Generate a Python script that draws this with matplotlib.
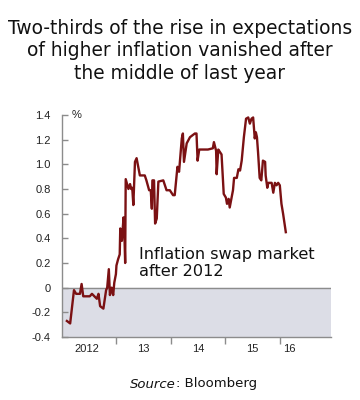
import matplotlib
matplotlib.use('Agg')
import matplotlib.pyplot as plt
import numpy as np

# Inflation swap rate, %, time in decimal years
anos = [2012.09, 2012.15, 2012.22, 2012.26, 2012.33, 2012.36, 2012.39, 2012.48,
        2012.51, 2012.55, 2012.64, 2012.67, 2012.70, 2012.76, 2012.81, 2012.83,
        2012.86, 2012.88, 2012.91, 2012.94, 2012.96, 2012.99, 2013.00, 2013.03,
        2013.06, 2013.07, 2013.10, 2013.13, 2013.14, 2013.16, 2013.17, 2013.22,
        2013.25, 2013.27, 2013.29, 2013.31, 2013.34, 2013.37, 2013.40, 2013.43,
        2013.52, 2013.55, 2013.60, 2013.63, 2013.65, 2013.66, 2013.69, 2013.71,
        2013.74, 2013.77, 2013.86, 2013.92, 2013.98, 2014.04, 2014.07, 2014.12,
        2014.15, 2014.20, 2014.22, 2014.24, 2014.29, 2014.35, 2014.44, 2014.47,
        2014.49, 2014.52, 2014.59, 2014.68, 2014.77, 2014.79, 2014.83, 2014.84,
        2014.87, 2014.90, 2014.93, 2014.97, 2015.01, 2015.03, 2015.06, 2015.08,
        2015.11, 2015.14, 2015.16, 2015.21, 2015.24, 2015.27, 2015.30, 2015.34,
        2015.38, 2015.42, 2015.45, 2015.48, 2015.51, 2015.54, 2015.56, 2015.58,
        2015.60, 2015.63, 2015.66, 2015.69, 2015.73, 2015.74, 2015.77, 2015.79,
        2015.85, 2015.88, 2015.91, 2015.94, 2015.97, 2016.00, 2016.03, 2016.06,
        2016.11]
swap = [-0.27, -0.29, -0.02, -0.05, -0.05, 0.03, -0.07, -0.07,
        -0.07, -0.05, -0.09, -0.05, -0.15, -0.17, -0.02, 0.00,
        0.15, -0.06, 0.00, -0.06, 0.04, 0.11, 0.18, 0.23,
        0.27, 0.48, 0.38, 0.57, 0.53, 0.20, 0.88, 0.80,
        0.84, 0.80, 0.81, 0.67, 1.02, 1.05, 0.98, 0.91,
        0.91, 0.87, 0.79, 0.79, 0.64, 0.87, 0.87, 0.52,
        0.56, 0.86, 0.87, 0.79, 0.79, 0.75, 0.75, 0.98,
        0.94, 1.21, 1.25, 1.02, 1.17, 1.22, 1.25, 1.25,
        1.03, 1.12, 1.12, 1.12, 1.13, 1.18, 1.11, 0.92,
        1.12, 1.10, 1.08, 0.76, 0.73, 0.68, 0.72, 0.65,
        0.72, 0.79, 0.89, 0.89, 0.96, 0.95, 1.03, 1.22,
        1.37, 1.38, 1.33, 1.37, 1.38, 1.21, 1.26, 1.22,
        1.10, 0.89, 0.87, 1.03, 1.02, 0.91, 0.81, 0.85,
        0.85, 0.77, 0.85, 0.83, 0.85, 0.83, 0.68, 0.60,
        0.45]

y_ticks = [1.4, 1.2, 1.0, 0.8, 0.6, 0.4, 0.2, 0, -0.2, -0.4]
y_labels = ['1.4', '1.2', '1.0', '0.8', '0.6', '0.4', '0.2', '0', '-0.2', '-0.4']
x_ticks = [2013, 2014, 2015, 2016]
x_label_pos = [2012.45, 2013.5, 2014.5, 2015.5, 2016.17]
x_labels = ['2012', '13', '14', '15', '16']

titulo = 'Two-thirds of the rise in expectations\nof higher inflation vanished after\nthe middle of last year'

fig = plt.figure(figsize=(3.6, 4.0), dpi=100)
ax = fig.add_axes([62 / 360, 1 - 337 / 400, 269 / 360, 222 / 400])

cinza = '#8c8c8c'
ax.axhspan(-0.4, 0, color='#dcdde6', zorder=0)
ax.axhline(0, color=cinza, lw=1, zorder=1)
ax.plot(anos, swap, color='#7b1113', lw=1.7, zorder=3)

ax.set_xlim(2012.0, 2016.94)
ax.set_ylim(-0.4, 1.4)

for lado in ['top', 'right']:
    ax.spines[lado].set_visible(False)
for lado in ['left', 'bottom']:
    ax.spines[lado].set_color(cinza)
    ax.spines[lado].set_linewidth(1)

ax.set_yticks(y_ticks)
ax.set_yticklabels(y_labels, fontfamily='Liberation Sans', fontsize=8, color='#222222')
ax.tick_params(axis='y', direction='in', length=4, width=1, color=cinza, pad=8)

ax.set_xticks(x_ticks)
ax.set_xticklabels([])
ax.tick_params(axis='x', which='major', direction='out', length=5, width=1, color=cinza)
ax.set_xticks(x_label_pos, minor=True)
ax.set_xticklabels(x_labels, minor=True, fontfamily='Liberation Sans', fontsize=8, color='#222222')
ax.tick_params(axis='x', which='minor', length=0, pad=5)

ax.text(2012.17, 1.4, '%', fontfamily='Liberation Sans', fontsize=8, color='#222222',
        ha='left', va='center')

ax.text(0.285, 0.333, 'Inflation swap market\nafter 2012', transform=ax.transAxes,
        fontfamily='DejaVu Sans', fontsize=11.6, color='#111111', ha='left', va='center',
        linespacing=1.12)

fig.text(0.5, 1 - 51 / 400, titulo, fontfamily='DejaVu Sans', fontsize=13.4,
         color='#111111', ha='center', va='center', linespacing=1.25)

fig.text(176 / 360, 1 - 384 / 400, 'Source', fontfamily='DejaVu Sans', style='italic',
         fontsize=9.5, color='#111111', ha='right', va='center')
fig.text(176 / 360, 1 - 384 / 400, ': Bloomberg', fontfamily='DejaVu Sans',
         fontsize=9.5, color='#111111', ha='left', va='center')

fig.savefig('out.png', dpi=100)
plt.close(fig)
